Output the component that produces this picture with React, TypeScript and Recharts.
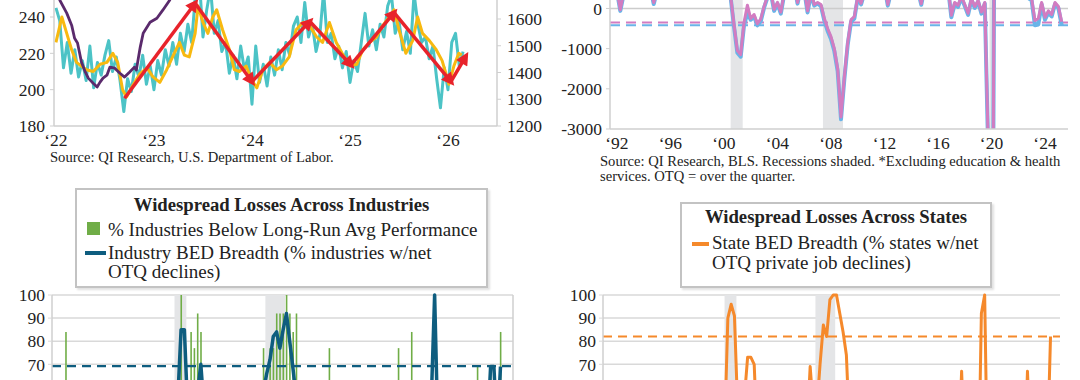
import React from 'react';
import {
  LineChart,
  Line,
  ComposedChart,
  Bar,
  XAxis,
  YAxis,
  CartesianGrid,
  ReferenceLine,
  ReferenceArea,
  Legend,
} from 'recharts';

const FONT = '"Liberation Serif", "Times New Roman", serif';
const INK = '#222';
const AXIS_GREY = '#cfcfcf';

// ---------- top left: weekly claims ----------
const claimsStartYear = 2022;
const claimsPerYear = 26;
const initialClaims = [
  // 2022
  245, 238, 212, 226, 209, 222, 207, 216, 205, 224, 201, 215, 208, 219, 227, 210, 218, 205, 188, 206, 199, 214, 207, 219, 203, 213,
  // 2023
  200, 216, 208, 222, 213, 226, 214, 231, 221, 236, 226, 252, 262, 229, 244, 256, 231, 238, 221, 226, 209, 219, 206, 224, 211, 218,
  // 2024
  192, 224, 204, 214, 202, 218, 208, 222, 211, 226, 219, 235, 240, 226, 248, 229, 236, 221, 230, 254, 226, 231, 217, 224, 212, 221,
  // 2025
  204, 216, 210, 226, 242, 224, 233, 222, 236, 229, 246, 252, 231, 238, 222, 232, 220, 253, 236, 226, 229, 217, 224, 206, 190, 212,
  // 2026
  200, 226, 231, 213, 221,
];

const avgYears = [
  2022.0, 2022.06, 2022.11, 2022.16, 2022.21, 2022.31, 2022.38, 2022.45, 2022.52, 2022.58, 2022.63, 2022.68, 2022.72,
  2022.78, 2022.86, 2022.93, 2022.99, 2023.06, 2023.13, 2023.19, 2023.26, 2023.31, 2023.36, 2023.42, 2023.45, 2023.5,
  2023.55, 2023.6, 2023.64, 2023.7, 2023.77, 2023.82, 2023.87, 2023.94, 2024.0, 2024.05, 2024.11, 2024.18, 2024.25,
  2024.31, 2024.38, 2024.45, 2024.52, 2024.59, 2024.66, 2024.72, 2024.79, 2024.86, 2024.92, 2025.0, 2025.07, 2025.13,
  2025.2, 2025.27, 2025.33, 2025.4, 2025.45, 2025.5, 2025.57, 2025.64, 2025.69, 2025.74, 2025.81, 2025.88, 2025.94,
  2026.01, 2026.06, 2026.11, 2026.14,
];
const avgClaims = [
  226, 240, 231, 222, 215, 211, 210, 214, 215, 220, 215, 200, 196,
  202, 209, 212, 207, 204, 211, 218, 226, 219, 218, 231, 246, 237,
  231, 240, 244, 233, 222, 211, 210, 213, 205, 201, 211, 215, 211,
  213, 218, 233, 237, 235, 229, 226, 237, 226, 220, 213, 214, 222,
  226, 229, 235, 240, 244, 233, 220, 227, 240, 231, 227, 222, 216,
  203, 213, 220, 219,
];

const contYears = [
  2022.0, 2022.04, 2022.11, 2022.16, 2022.19, 2022.22, 2022.26, 2022.3, 2022.33, 2022.38, 2022.42, 2022.45, 2022.48,
  2022.52, 2022.55, 2022.6, 2022.65, 2022.7, 2022.75, 2022.8, 2022.82, 2022.86, 2022.89, 2022.96, 2023.03, 2023.09,
  2023.16, 2023.3, 2023.5, 2023.7, 2023.9, 2024.1, 2024.3, 2024.5, 2024.7, 2024.9, 2025.1, 2025.3, 2025.5, 2025.7,
  2025.9, 2026.1,
];
const contClaims = [
  1726, 1670, 1622, 1577, 1528, 1510, 1439, 1401, 1379, 1360, 1346, 1364, 1379,
  1390, 1420, 1416, 1398, 1383, 1401, 1420, 1409, 1495, 1547, 1588, 1603, 1633,
  1670, 1800, 1750, 1730, 1860, 1800, 1790, 1860, 1830, 1870, 1880, 1900, 1950, 1930,
  1960, 1880,
];

const trendYears = [2022.7, 2023.42, 2024.0, 2024.59, 2025.01, 2025.45, 2026.03, 2026.18];
const trendClaims = [195.3, 247.6, 204.4, 237.5, 213.6, 242.4, 204.4, 218.2];

// ---------- quarterly BED data, 1992Q1 onward ----------
const quarterYear = (q: number) => 1992 + q / 4;

const netChangeExEdHealth = [
  450, -30, 380, 520, 610, 480, 720, 650, 830, 690, 540, 150, 470, 620, 390, 560,
  700, 520, 810, 640, 760, 590, 880, 720, 650, 780, 540, 690, 620, 740, 580, 810,
  670, 420, 300, -400, -1050, -1150, -350, 80, -250, -150, -380, -260, 50, 300, 420, -20,
  150, -90, 380, 520, 460, 610, 150, 540, 480, -60, 390, 100, 150, 100, -250, -500,
  -700, -1000, -1500, -2700, -1700, -850, -280, -200, 300, 130, 420, 560, 480, 620, 390, 510,
  580, 100, 460, 530, 610, 470, 540, 650, 590, 720, 480, 120, 560, 690, 430, 510,
  620, 380, 470, 540, -170, 150, 80, 300, 100, -120, 250, 50, 200, -90, 150, -3300,
  -13000, 5000, 1500, 1100, 1300, 1600, 900, 1200, 800, 650, 520, 300, 250, -300, -250, 150,
  -220, -60, -150, 150, 50, -330,
];
const netChangePrivate = [
  420, -60, 350, 490, 580, 450, 690, 620, 800, 660, 510, 110, 440, 590, 360, 530,
  670, 490, 780, 610, 730, 560, 850, 690, 620, 750, 510, 660, 590, 710, 550, 780,
  640, 390, 270, -450, -1100, -1200, -420, -120, -280, -200, -420, -320, 20, 270, 390, -60,
  120, -130, 350, 490, 430, 580, 120, 510, 450, -100, 360, 70, 120, 60, -300, -560,
  -760, -1060, -1560, -2760, -1760, -900, -330, -250, 270, 100, 390, 530, 450, 590, 360, 480,
  550, 70, 430, 500, 580, 440, 510, 620, 560, 690, 450, 90, 530, 660, 400, 480,
  590, 350, 440, 510, -220, 110, 40, 270, 60, -160, 220, 10, 170, -130, 120, -3500,
  -13500, 4800, 1400, 1000, 1200, 1500, 850, 1150, 750, 600, 480, 260, 200, -420, -400, 100,
  -280, -110, -200, 110, 10, -420,
];
const avgExEdHealth = -350;
const avgPrivate = -415;

const industryBreadth = [
  38, 46, 31, 23, 15, 23, 8, 15, 8, 15, 23, 15, 31, 23, 38, 31,
  23, 15, 23, 8, 15, 8, 15, 23, 23, 31, 15, 23, 31, 23, 31, 38,
  31, 46, 38, 55, 85, 85, 50, 46, 50, 58, 70, 50, 54, 38, 31, 23,
  23, 15, 31, 23, 15, 23, 15, 31, 23, 31, 38, 46, 46, 58, 66, 72,
  82, 84, 77, 85, 92, 80, 68, 55, 38, 31, 23, 31, 23, 15, 23, 15,
  23, 15, 31, 23, 15, 23, 15, 8, 15, 8, 15, 23, 23, 31, 23, 15,
  31, 38, 31, 23, 46, 31, 38, 23, 31, 23, 46, 31, 31, 38, 23, 46,
  55, 100, 40, 23, 8, 15, 23, 15, 23, 31, 38, 46, 38, 46, 54, 46,
  38, 40, 69, 69, 40, 69,
];
const industriesBelowAvg = [
  46, 84, 38, 31, 23, 31, 15, 23, 15, 23, 31, 23, 38, 31, 46, 38,
  31, 23, 31, 15, 23, 15, 23, 31, 31, 38, 23, 31, 38, 31, 38, 46,
  38, 54, 46, 62, 100, 54, 62, 84, 77, 92, 84, 62, 54, 46, 38, 31,
  31, 23, 38, 31, 23, 31, 23, 38, 31, 38, 46, 54, 54, 77, 62, 77,
  77, 92, 92, 92, 100, 92, 84, 92, 54, 38, 31, 38, 31, 23, 31, 23,
  31, 77, 38, 31, 23, 31, 23, 15, 23, 15, 23, 31, 31, 38, 31, 23,
  38, 46, 38, 31, 54, 38, 77, 31, 38, 31, 84, 38, 38, 46, 31, 54,
  62, 54, 46, 31, 15, 23, 31, 23, 31, 38, 46, 54, 46, 54, 69, 54,
  46, 54, 69, 62, 54, 84,
];
const industryBreadthAvg = 69.2;

const stateBreadth = [
  20, 31, 24, 16, 12, 18, 10, 14, 8, 12, 16, 10, 22, 18, 28, 24,
  16, 12, 20, 10, 8, 12, 6, 14, 18, 24, 12, 16, 20, 14, 22, 30,
  24, 32, 40, 90, 96, 91, 50, 35, 55, 73, 73, 70, 35, 28, 22, 16,
  14, 10, 18, 12, 8, 14, 10, 20, 16, 24, 30, 40, 69, 50, 50, 70,
  87, 82, 98, 100, 100, 92, 84, 74, 40, 30, 22, 18, 12, 16, 10, 14,
  10, 8, 14, 10, 6, 10, 8, 12, 8, 6, 10, 14, 12, 18, 14, 20,
  24, 18, 28, 22, 22, 30, 18, 26, 24, 30, 67, 28, 20, 26, 18, 10,
  92, 100, 10, 20, 6, 8, 12, 10, 14, 20, 16, 24, 28, 22, 67, 30,
  36, 28, 40, 34, 30, 82,
];
const stateBreadthAvg = 82;

const recessionStarts = [2000.5, 2007.4, 2019.85];
const recessionEnds = [2001.4, 2008.9, 2020.1];

// visible tick labels
const claimsTicks = [180, 200, 220, 240];
const contTicks = [1200, 1300, 1400, 1500, 1600];
const flowTicks = [-3000, -2000, -1000, 0];
const breadthTicks = [60, 70, 80, 90, 100];

const industryTitle = 'Widespread Losses Across Industries';
const industryBelowLabel = '% Industries Below Long-Run Avg Performance';
const industryBreadthLabel = ['Industry BED Breadth (% industries w/net', 'OTQ declines)'];
const stateTitle = 'Widespread Losses Across States';
const stateBreadthLabel = ['State BED Breadth (% states w/net', 'OTQ private job declines)'];

const claimsSource = 'Source: QI Research, U.S. Department of Labor.';
const flowsSource = [
  'Source: QI Research, BLS. Recessions shaded. *Excluding education & health',
  'services. OTQ = over the quarter.',
];

const COLORS = {
  teal: '#4cc3c6',
  gold: '#f8b910',
  purple: '#5a2a6c',
  red: '#e8232b',
  pink: '#d27cc1',
  blue: '#6ab4e8',
  navy: '#0e5d7f',
  green: '#70ad47',
  orange: '#f5892b',
  shade: '#e4e5e7',
};

// chart tables
const tealData = initialClaims.map((v, i) => ({ x: claimsStartYear + i / claimsPerYear, v }));
const goldData = avgYears.map((x, i) => ({ x, v: avgClaims[i] }));
const purpleData = contYears.map((x, i) => ({ x, v: contClaims[i] }));
const arrowSegments = trendYears.slice(1).map((x, i) => [
  { x: trendYears[i], v: trendClaims[i] },
  { x, v: trendClaims[i + 1] },
]);
const flowsData = netChangeExEdHealth.map((v, q) => ({
  x: quarterYear(q),
  pink: v,
  blue: netChangePrivate[q],
}));
const industryData = industryBreadth.map((v, q) => ({
  x: quarterYear(q),
  breadth: v,
  below: industriesBelowAvg[q],
}));
const stateData = stateBreadth.map((v, q) => ({ x: quarterYear(q), breadth: v }));

const yearLabel = (v: number) => '\u2018' + String(v).slice(2);

// serif tick text (the default tick text came out sans)
const serifTick =
  (anchor: 'start' | 'middle' | 'end', dy: string, fmt?: (v: number) => string) =>
  (props: any) => {
    const { x, y, payload } = props;
    return (
      <text
        x={x}
        y={y}
        dy={dy}
        textAnchor={anchor}
        fill={INK}
        fontSize={17.5}
        fontFamily={FONT}
        style={{ fontFamily: FONT, fontSize: 17.5 }}
      >
        {fmt ? fmt(payload.value) : payload.value}
      </text>
    );
  };

const yearTick = serifTick('middle', '0.71em', yearLabel);
const leftTick = serifTick('end', '0.355em');
const rightTick = serifTick('start', '0.355em');
const axisLine = { stroke: AXIS_GREY, strokeWidth: 1.5 };

const boxStyle: React.CSSProperties = {
  position: 'relative',
  width: '100%',
  height: '100%',
  boxSizing: 'border-box',
  background: '#fff',
  border: '2px solid #c3c3c3',
  boxShadow: '2px 2px 2px rgba(0,0,0,0.12)',
  fontFamily: FONT,
  color: INK,
};

const IndustryLegend = () => (
  <div style={boxStyle}>
    <div style={{ position: 'absolute', top: 5, left: 0, width: '100%', textAlign: 'center', fontWeight: 'bold', fontSize: 18.7, lineHeight: '20px' }}>
      {industryTitle}
    </div>
    <div style={{ position: 'absolute', left: 10, top: 32, width: 13, height: 13, background: COLORS.green }} />
    <div style={{ position: 'absolute', left: 31, top: 30, fontSize: 19, lineHeight: '20px', whiteSpace: 'nowrap' }}>
      {industryBelowLabel}
    </div>
    <div style={{ position: 'absolute', left: 8, top: 61, width: 21, height: 4, background: COLORS.navy }} />
    <div style={{ position: 'absolute', left: 31, top: 53, fontSize: 19, lineHeight: '19px', whiteSpace: 'nowrap' }}>
      {industryBreadthLabel[0]}
      <br />
      {industryBreadthLabel[1]}
    </div>
  </div>
);

const StateLegend = () => (
  <div style={boxStyle}>
    <div style={{ position: 'absolute', top: 3, left: 0, width: '100%', textAlign: 'center', fontWeight: 'bold', fontSize: 18.7, lineHeight: '20px' }}>
      {stateTitle}
    </div>
    <div style={{ position: 'absolute', left: 10, top: 38, width: 17, height: 3.5, background: COLORS.orange }} />
    <div style={{ position: 'absolute', left: 30, top: 29, fontSize: 19, lineHeight: '19.5px', whiteSpace: 'nowrap' }}>
      {stateBreadthLabel[0]}
      <br />
      {stateBreadthLabel[1]}
    </div>
  </div>
);

const sourceStyle: React.CSSProperties = {
  position: 'absolute',
  fontFamily: FONT,
  fontSize: 14.6,
  lineHeight: '15px',
  color: INK,
  whiteSpace: 'nowrap',
};

export default function App() {
  return (
    <div style={{ position: 'absolute', left: 0, top: 0, width: 1080, height: 380, overflow: 'hidden', background: '#fff', fontFamily: FONT }}>
      {/* claims */}
      <div style={{ position: 'absolute', left: 0, top: -100 }}>
        <LineChart width={560} height={270} margin={{ top: 8, right: 0, bottom: 4, left: 0 }}>
          <defs>
            <marker id="arrowHead" viewBox="0 0 10 10" refX="6" refY="5" markerWidth="15" markerHeight="13" markerUnits="userSpaceOnUse" orient="auto">
              <path d="M0,0 L10,5 L0,10 z" fill={COLORS.red} />
            </marker>
          </defs>
          <XAxis
            dataKey="x"
            type="number"
            domain={[2021.98, 2026.5]}
            ticks={[2022, 2023, 2024, 2025, 2026]}
            interval={0}
            height={40}
            tick={yearTick}
            axisLine={axisLine}
            tickLine={false}
          />
          <YAxis
            yAxisId="left"
            domain={[180, 300]}
            ticks={claimsTicks}
            interval={0}
            width={54}
            tick={leftTick}
            tickSize={4}
            tickMargin={5}
            axisLine={axisLine}
            tickLine={{ stroke: AXIS_GREY }}
          />
          <YAxis
            yAxisId="right"
            orientation="right"
            domain={[1200, 2015]}
            ticks={contTicks}
            interval={0}
            width={63}
            tick={rightTick}
            tickSize={4}
            tickMargin={6}
            axisLine={axisLine}
            tickLine={{ stroke: AXIS_GREY }}
          />
          <Line data={tealData} yAxisId="left" dataKey="v" stroke={COLORS.teal} strokeWidth={3} dot={false} isAnimationActive={false} strokeLinejoin="round" />
          <Line data={goldData} yAxisId="left" dataKey="v" stroke={COLORS.gold} strokeWidth={3} dot={false} isAnimationActive={false} strokeLinejoin="round" />
          <Line data={purpleData} yAxisId="right" dataKey="v" stroke={COLORS.purple} strokeWidth={2.8} dot={false} isAnimationActive={false} strokeLinejoin="round" />
          {arrowSegments.map((seg, i) => (
            <Line
              key={'arrow' + i}
              data={seg}
              yAxisId="left"
              dataKey="v"
              stroke={COLORS.red}
              strokeWidth={3.5}
              dot={false}
              isAnimationActive={false}
              markerEnd="url(#arrowHead)"
            />
          ))}
        </LineChart>
        <div style={{ ...sourceStyle, left: 50, top: 250 }}>{claimsSource}</div>
      </div>

      {/* BED flows */}
      <div style={{ position: 'absolute', left: 540, top: -100 }}>
        <LineChart data={flowsData} width={540} height={270} margin={{ top: 8, right: 12, bottom: 1, left: 0 }}>
          {recessionStarts.map((s, i) => (
            <ReferenceArea key={'r' + i} x1={s} x2={recessionEnds[i]} fill={COLORS.shade} fillOpacity={1} stroke="none" />
          ))}
          <XAxis
            dataKey="x"
            type="number"
            domain={[1991.48, 2025.72]}
            ticks={[1992, 1996, 2000, 2004, 2008, 2012, 2016, 2020, 2024]}
            interval={0}
            height={40}
            tick={yearTick}
            axisLine={axisLine}
            tickLine={false}
          />
          <YAxis
            domain={[-3000, 2500]}
            ticks={flowTicks}
            allowDataOverflow
            interval={0}
            width={70}
            tick={leftTick}
            tickSize={4}
            tickMargin={4}
            axisLine={axisLine}
            tickLine={{ stroke: AXIS_GREY }}
          />
          <ReferenceLine y={0} stroke="#cccccc" strokeWidth={1.5} />
          <ReferenceLine y={avgExEdHealth} stroke={COLORS.pink} strokeWidth={2} strokeDasharray="10 6" />
          <ReferenceLine y={avgPrivate} stroke={COLORS.blue} strokeWidth={2} strokeDasharray="10 6" />
          <Line dataKey="blue" stroke={COLORS.blue} strokeWidth={4} dot={false} isAnimationActive={false} strokeLinejoin="round" />
          <Line dataKey="pink" stroke={COLORS.pink} strokeWidth={3} dot={false} isAnimationActive={false} strokeLinejoin="round" />
        </LineChart>
        <div style={{ ...sourceStyle, left: 60, top: 254 }}>
          {flowsSource[0]}
          <br />
          {flowsSource[1]}
        </div>
      </div>

      {/* industry breadth */}
      <div style={{ position: 'absolute', left: 0, top: 285 }}>
        <ComposedChart data={industryData} width={560} height={280} margin={{ top: 10, right: 0, bottom: 39, left: 0 }}>
          {recessionStarts.slice(0, 2).map((s, i) => (
            <ReferenceArea key={'r' + i} yAxisId="left" x1={s} x2={recessionEnds[i]} fill={COLORS.shade} fillOpacity={1} stroke="none" />
          ))}
          <CartesianGrid vertical={false} stroke="#d9d9d9" strokeWidth={1.5} yAxisId="left" />
          <XAxis dataKey="x" type="number" domain={[1991.2, 2026.2]} hide />
          <YAxis
            yAxisId="left"
            domain={[0, 100]}
            ticks={breadthTicks}
            interval={0}
            width={52}
            tick={leftTick}
            tickSize={4}
            tickMargin={3}
            axisLine={axisLine}
            tickLine={{ stroke: '#d9d9d9' }}
          />
          <YAxis
            yAxisId="right"
            orientation="right"
            domain={[0, 100]}
            ticks={breadthTicks}
            interval={0}
            width={47}
            tick={rightTick}
            tickSize={3}
            tickMargin={1}
            axisLine={axisLine}
            tickLine={{ stroke: '#d9d9d9' }}
          />
          <Bar yAxisId="left" dataKey="below" fill={COLORS.green} barSize={1.6} isAnimationActive={false} />
          <ReferenceLine yAxisId="left" y={industryBreadthAvg} stroke={COLORS.navy} strokeWidth={2.2} strokeDasharray="9 6" />
          <Line yAxisId="left" dataKey="breadth" stroke={COLORS.navy} strokeWidth={3.5} dot={false} isAnimationActive={false} strokeLinejoin="round" />
          <Legend
            layout="vertical"
            align="center"
            verticalAlign="middle"
            content={() => <IndustryLegend />}
            wrapperStyle={{ left: 75, top: -97, width: 413, height: 100 }}
          />
        </ComposedChart>
      </div>

      {/* state breadth */}
      <div style={{ position: 'absolute', left: 550, top: 285 }}>
        <LineChart data={stateData} width={530} height={280} margin={{ top: 10, right: 20, bottom: 39, left: 0 }}>
          {recessionStarts.slice(0, 2).map((s, i) => (
            <ReferenceArea key={'r' + i} x1={s} x2={recessionEnds[i]} fill={COLORS.shade} fillOpacity={1} stroke="none" />
          ))}
          <CartesianGrid vertical={false} stroke="#d9d9d9" strokeWidth={1.5} />
          <XAxis dataKey="x" type="number" domain={[1991.27, 2025.97]} hide />
          <YAxis
            domain={[0, 100]}
            ticks={breadthTicks}
            interval={0}
            width={53}
            tick={leftTick}
            tickSize={4}
            tickMargin={3}
            axisLine={axisLine}
            tickLine={{ stroke: '#d9d9d9' }}
          />
          <ReferenceLine y={stateBreadthAvg} stroke={COLORS.orange} strokeWidth={2} strokeDasharray="9 6" />
          <Line dataKey="breadth" stroke={COLORS.orange} strokeWidth={3} dot={false} isAnimationActive={false} strokeLinejoin="round" />
          <Legend
            layout="vertical"
            align="center"
            verticalAlign="middle"
            content={() => <StateLegend />}
            wrapperStyle={{ left: 130, top: -83, width: 312, height: 86 }}
          />
        </LineChart>
      </div>
    </div>
  );
}
